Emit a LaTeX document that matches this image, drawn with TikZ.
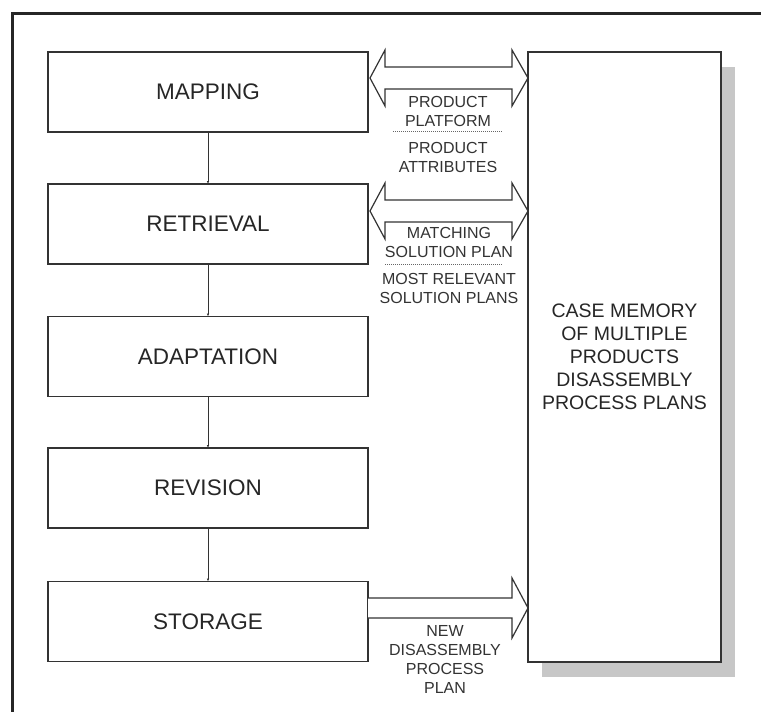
\documentclass[tikz,border=0pt]{standalone}
\usepackage{fontspec}
\setmainfont{Liberation Sans}
\usetikzlibrary{calc,arrows.meta}
\newcommand\blockdbl[2]{%
  \draw[blk] (#1) -- ++(15,-28) -- ++(0,17) -- ($(#2)+(-16,-11)$) -- ++(0,-17) -- (#2)
    -- ++(-16,28) -- ++(0,-17) -- ($(#1)+(15,11)$) -- ++(0,17) -- cycle;}
\begin{document}
\begin{tikzpicture}[x=1pt,y=-1pt,
  stage/.style={draw=black!80, line width=1.2pt, fill=white, minimum width=320pt, minimum height=80pt,
    inner sep=0pt, outer sep=0pt, font=\fontsize{22.5}{27}\selectfont, text=black!85},
  memory/.style={draw=black!80, line width=1.2pt, fill=white, minimum width=193pt, minimum height=610pt,
    inner sep=0pt, outer sep=0pt, align=center, font=\fontsize{19.5}{23}\selectfont, text=black!85},
  lbl/.style={align=center, inner sep=0pt, font=\fontsize{16}{19}\selectfont, text=black!80},
  flow/.style={draw=black!80, line width=1pt, -{Latex[length=3pt,width=2.5pt]}},
  blk/.style={draw=black!80, line width=1.2pt, fill=white, line join=miter},
  sepline/.style={draw=black!60, line width=1pt, densely dotted},
  shadowbox/.style={fill=black!22}
]
\useasboundingbox (0,0) rectangle (761,712);
\fill[white] (0,0) rectangle (761,712);
\draw[black!85, line width=3pt] (12,712) -- (12,13) -- (761,13);

% left process stages
\node[stage] (map) at (208,92) {MAPPING};
\node[stage] (ret) at (208,224) {RETRIEVAL};
\node[stage] (ada) at (208,356.5) {ADAPTATION};
\node[stage] (rev) at (208,488) {REVISION};
\node[stage] (sto) at (208,621.5) {STORAGE};

% case memory with shadow
\fill[shadowbox] (542,67) rectangle (735,677);
\node[memory] (mem) at (624.5,357) {CASE MEMORY\\OF MULTIPLE\\PRODUCTS\\DISASSEMBLY\\PROCESS PLANS};

% flow
\draw[flow] (map.south) -- (ret.north);
\draw[flow] (ret.south) -- (ada.north);
\draw[flow] (ada.south) -- (rev.north);
\draw[flow] (rev.south) -- (sto.north);

% block arrows
\coordinate (a1l) at ($(map.east)+(2,-14)$);
\coordinate (a1r) at (mem.west |- a1l);
\coordinate (a2l) at ($(ret.east)+(2,-13)$);
\coordinate (a2r) at (mem.west |- a2l);
\coordinate (a3l) at ($(sto.east)+(0,-13.5)$);
\coordinate (a3r) at (mem.west |- a3l);
\blockdbl{a1l}{a1r}
\blockdbl{a2l}{a2r}
\draw[blk] ($(a3l)+(0,-10)$) -- ($(a3r)+(-16,-10)$) -- ++(0,-20) -- (a3r) -- ++(-16,30) -- ++(0,-20) -- ($(a3l)+(0,10)$);

% labels
\node[lbl] (l1a) at (448,111) {PRODUCT\\PLATFORM};
\node[lbl] (l1b) at (448,157) {PRODUCT\\ATTRIBUTES};
\node[lbl] (l2a) at (449,242) {MATCHING\\SOLUTION PLAN};
\node[lbl] (l2b) at (449,288) {MOST RELEVANT\\SOLUTION PLANS};
\node[lbl] (l3) at (445,659) {NEW\\DISASSEMBLY\\PROCESS\\PLAN};
\draw[sepline] (393,131) -- (502,131);
\draw[sepline] (385,264) -- (503,264);
\end{tikzpicture}
\end{document}
